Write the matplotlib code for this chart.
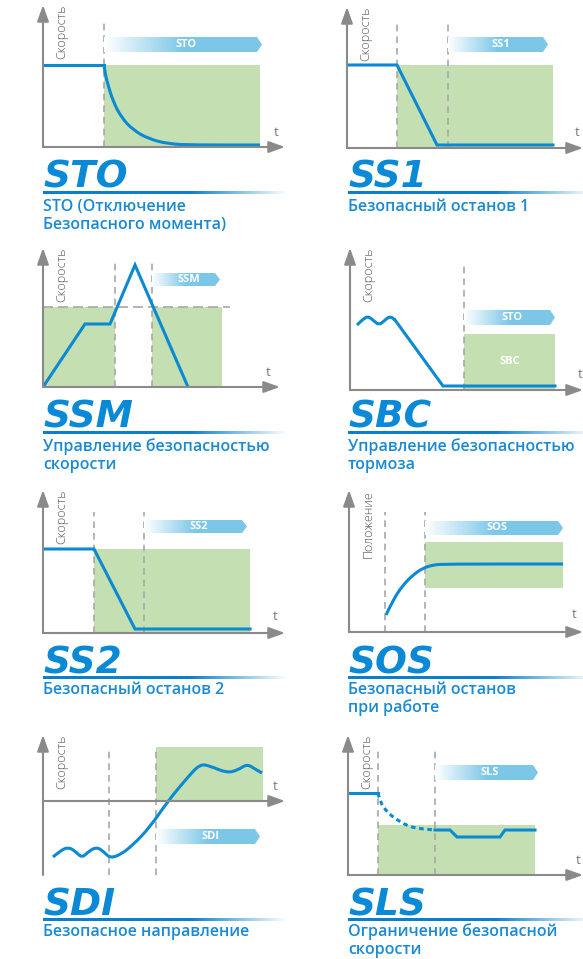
import numpy as np
import matplotlib
matplotlib.use('Agg')
import matplotlib.pyplot as plt
from matplotlib.path import Path
from matplotlib.patches import PathPatch, Rectangle, Polygon

plt.rcParams['font.family'] = ['Open Sans', 'DejaVu Sans']

BLUE = '#0a8ad2'
GREEN = '#c4dfb1'
AXIS = '#8a8a8a'
DASH = '#a8a8a8'
TITLE = '#0a8ad6'
SUB = '#1a8ad4'
BANNER_RGB = np.array([0.49, 0.78, 0.91])
UNDER_RGB = np.array([0.04, 0.50, 0.80])

# ---- data (time / speed in panel units) ----
# STO
sto_t = [0, 61, 62, 65, 70, 78, 90, 106, 126, 150, 217]
sto_v = [82, 82, 74, 62, 46, 30, 17, 8, 3, 2, 2]
sto_zone = [61, 217, 0, 82]
# SS1
ss1_t = [0, 50, 90, 206]
ss1_v = [83, 83, 3, 3]
ss1_zone = [50, 206, 0, 83]
# SSM
ssm_t = [0, 42, 67, 92, 145]
ssm_v = [0, 63, 63, 122, 0]
ssm_limit = 80
ssm_zones = [[0, 72], [109, 179]]
# SBC
sbc_wave_t = [7, 12, 18, 24, 29, 34, 40, 45]
sbc_wave_v = [65, 70, 74, 69, 65, 69, 74, 70]
sbc_t = [45, 93, 205]
sbc_v = [70, 4, 4]
sbc_zone = [114, 205, 0, 56]
# SS2
ss2_t = [0, 51, 92, 207]
ss2_v = [84, 84, 4, 4]
ss2_zone = [51, 207, 0, 84]
# SOS (position)
sos_t = [37, 44, 54, 64, 74, 84, 94, 214]
sos_v = [17, 32, 47, 57, 64, 67, 68, 68]
sos_zone = [76, 214, 44, 90]
# SDI
sdi_t = [10, 17, 25, 32, 39, 46, 54, 61, 67, 77, 90, 107, 125, 144, 157, 167, 184, 195, 204, 212, 219]
sdi_v = [-56, -50, -46, -50, -57, -50, -46, -51, -57, -54, -44, -26, 0, 23, 37, 35, 28, 31, 37, 32, 28]
sdi_zone = [113, 220, 0, 54]
# SLS
sls_hold_t = [2, 30]
sls_hold_v = [82, 82]
sls_decay_t = [30, 32, 39, 49, 62, 75, 87]
sls_decay_v = [82, 73, 63, 55, 48, 46, 45]
sls_t = [87, 102, 109, 152, 157, 187]
sls_v = [45, 45, 38, 38, 45, 45]
sls_zone = [30, 187, 0, 50]

W, H = 583, 959
fig = plt.figure(figsize=(W / 100, H / 100), dpi=100)

deco = fig.add_axes([0, 0, 1, 1])
deco.axis('off')


def smooth(ax, t, v, **kw):
    pts = list(zip(t, v))
    verts = [pts[0]]
    codes = [Path.MOVETO]
    for i in range(1, len(pts) - 1):
        mid = ((pts[i][0] + pts[i + 1][0]) / 2, (pts[i][1] + pts[i + 1][1]) / 2)
        verts += [pts[i], mid]
        codes += [Path.CURVE3, Path.CURVE3]
    verts.append(pts[-1])
    codes.append(Path.LINETO)
    ax.add_patch(PathPatch(Path(verts, codes), facecolor='none', edgecolor=BLUE,
                           lw=2.2, capstyle='butt', zorder=5, **kw))


def line(ax, t, v, **kw):
    ax.plot(t, v, color=BLUE, lw=2.2, solid_joinstyle='miter', zorder=5, **kw)


def zone(ax, z):
    ax.add_patch(Rectangle((z[0], z[2]), z[1] - z[0], z[3] - z[2], facecolor=GREEN,
                           edgecolor='none', zorder=1))


def dashed(ax, t, v0, v1):
    ax.plot([t, t], [v0, v1], color=DASH, lw=1.2, ls=(0, (4, 3)), zorder=2)


def banner(ax, t0, t1, v0, v1, label):
    f = np.clip(np.linspace(0, 1, 256) / 0.5, 0, 1)
    img = (1 - f)[:, None] * np.ones(3) + f[:, None] * BANNER_RGB
    im = ax.imshow(img[None, :, :], extent=[t0, t1, v0, v1], aspect='auto',
                   origin='lower', interpolation='bilinear', zorder=3)
    tip = 5
    poly = Polygon([(t0, v0), (t1 - tip, v0), (t1, (v0 + v1) / 2), (t1 - tip, v1), (t0, v1)],
                   closed=True, facecolor='none', edgecolor='none')
    ax.add_patch(poly)
    im.set_clip_path(poly)
    ax.text((t0 + t1) / 2 + 3, (v0 + v1) / 2, label, color='white', fontsize=8,
            fontweight='bold', ha='center', va='center', zorder=4)


def panel(left, right, top, bottom, vmin=0, ylabel='Скорость', tlab=(230, 15)):
    ax = fig.add_axes([left / W, 1 - bottom / H, (right - left) / W, (bottom - top) / H])
    ax.axis('off')
    xmax = right - left
    vmax = vmin + bottom - top
    ax.set_xlim(0, xmax)
    ax.set_ylim(vmin, vmax)
    arrow = dict(arrowstyle='-|>,head_length=0.7,head_width=0.25', color=AXIS, lw=1.5,
                 shrinkA=0, shrinkB=0, mutation_scale=14)
    ax.annotate('', xy=(xmax, 0), xytext=(0, 0), arrowprops=arrow, annotation_clip=False, zorder=6)
    ax.annotate('', xy=(0, vmax), xytext=(0, vmin), arrowprops=arrow, annotation_clip=False, zorder=6)
    ax.text(19, vmax, ylabel, rotation=90, ha='center', va='top', fontsize=9,
            color='#555555', fontweight='light')
    ax.text(tlab[0], tlab[1], 't', fontsize=9.5, color='#777777', ha='center', va='center')
    return ax, (0, xmax, vmin, vmax)


def finish(ax, lims):
    ax.set_xlim(lims[0], lims[1])
    ax.set_ylim(lims[2], lims[3])


# STO
ax, lims = panel(43, 285, 5, 147, tlab=(233, 15))
zone(ax, sto_zone)
dashed(ax, 61, 0, 125)
line(ax, sto_t[:2], sto_v[:2])
smooth(ax, sto_t[1:], sto_v[1:])
banner(ax, 61, 219, 95, 110, 'STO')
finish(ax, lims)

# SS1
ax, lims = panel(347, 583, 7, 148, tlab=(230, 16))
zone(ax, ss1_zone)
dashed(ax, 50, 0, 126)
dashed(ax, 101, 0, 126)
line(ax, ss1_t, ss1_v)
banner(ax, 101, 201, 96, 111, 'SS1')
finish(ax, lims)

# SSM
ax, lims = panel(43, 280, 248, 387, tlab=(225, 15))
for z in ssm_zones:
    zone(ax, [z[0], z[1], 0, ssm_limit])
dashed(ax, 72, 0, 124)
dashed(ax, 109, 0, 124)
ax.plot([0, 187], [ssm_limit, ssm_limit], color=DASH, lw=1.2, ls=(0, (6, 3)), zorder=2)
line(ax, ssm_t, ssm_v)
banner(ax, 109, 177, 101, 114, 'SSM')
finish(ax, lims)

# SBC
ax, lims = panel(350, 583, 248, 390, tlab=(230, 15))
zone(ax, sbc_zone)
ax.text((sbc_zone[0] + sbc_zone[1]) / 2, sbc_zone[3] / 2, 'SBC', color='white', fontsize=8,
        fontweight='bold', ha='center', va='center', zorder=4)
dashed(ax, 114, 0, 127)
smooth(ax, sbc_wave_t, sbc_wave_v)
line(ax, sbc_t, sbc_v)
banner(ax, 114, 205, 65, 80, 'STO')
finish(ax, lims)

# SS2
ax, lims = panel(43, 285, 490, 633, tlab=(232, 16))
zone(ax, ss2_zone)
dashed(ax, 51, 0, 121)
dashed(ax, 101, 0, 121)
line(ax, ss2_t, ss2_v)
banner(ax, 101, 204, 100, 113, 'SS2')
finish(ax, lims)

# SOS
ax, lims = panel(349, 583, 490, 632, ylabel='Положение', tlab=(225, 17))
zone(ax, sos_zone)
dashed(ax, 36, 0, 120)
dashed(ax, 76, 0, 120)
smooth(ax, sos_t, sos_v)
banner(ax, 76, 214, 97, 111, 'SOS')
finish(ax, lims)

# SDI
ax, lims = panel(43, 285, 735, 875, vmin=-74, tlab=(232, 14))
zone(ax, sdi_zone)
dashed(ax, 66, -74, 51)
dashed(ax, 113, -74, 51)
smooth(ax, sdi_t, sdi_v)
banner(ax, 113, 217, -43, -28, 'SDI')
finish(ax, lims)

# SLS
ax, lims = panel(348, 583, 735, 875, tlab=(230, 15))
zone(ax, sls_zone)
dashed(ax, 30, 0, 127)
dashed(ax, 87, 0, 127)
line(ax, sls_hold_t, sls_hold_v)
smooth(ax, sls_decay_t, sls_decay_v, ls=(0, (1.5, 1.2)))
line(ax, sls_t, sls_v)
banner(ax, 87, 190, 95, 110, 'SLS')
finish(ax, lims)

# ---- titles, underlines, captions ----
captions = [
    (43, 188, 'STO', ['STO (Отключение', 'Безопасного момента)'], 211),
    (348, 188, 'SS1', ['Безопасный останов 1'], 211),
    (43, 428, 'SSM', ['Управление безопасностью', 'скорости'], 451),
    (348, 428, 'SBC', ['Управление безопасностью', 'тормоза'], 451),
    (43, 673, 'SS2', ['Безопасный останов 2'], 694),
    (348, 673, 'SOS', ['Безопасный останов', 'при работе'], 694),
    (43, 915, 'SDI', ['Безопасное направление'], 936),
    (348, 915, 'SLS', ['Ограничение безопасной', 'скорости'], 936),
]

for x, yb, title, lines, ys in captions:
    deco.text(x, yb, title, fontsize=27, fontweight='bold', style='italic', color=TITLE,
              family='DejaVu Sans', va='baseline', ha='left')
    f = np.clip((np.linspace(0, 1, 256) - 0.6) / 0.4, 0, 1)
    img = (1 - f)[:, None] * UNDER_RGB + f[:, None] * np.ones(3)
    x1 = x + 245
    deco.imshow(img[None, :, :], extent=[x, x1, yb + 6.5, yb + 3.5], aspect='auto',
                interpolation='bilinear')
    for i, s in enumerate(lines):
        deco.text(x, ys + 18 * i, s, fontsize=11.5, fontweight='semibold', color=SUB,
                  va='baseline', ha='left')

deco.set_xlim(0, W)
deco.set_ylim(H, 0)

fig.savefig('out.png', dpi=100)
